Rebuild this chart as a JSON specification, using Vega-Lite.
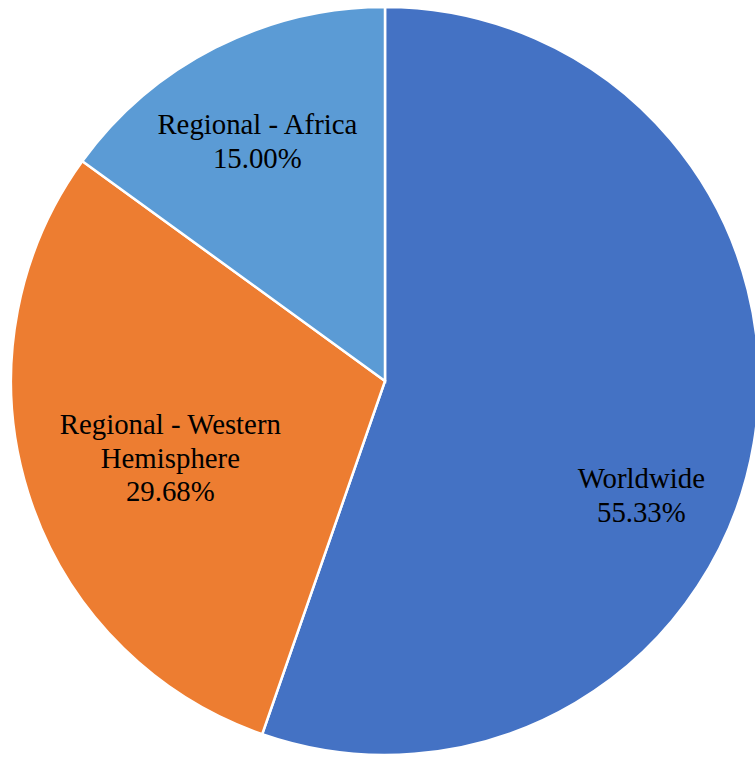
{
  "$schema": "https://vega.github.io/schema/vega-lite/v6.json",
  "width": 748,
  "height": 748,
  "autosize": "none",
  "padding": {"left": 11, "top": 7, "right": 0, "bottom": 0},
  "background": "white",
  "view": {"stroke": null},
  "data": {
    "values": [
      {"category": "Worldwide", "share": 55.33, "order": 1, "label": "Worldwide\n55.33%"},
      {"category": "Regional - Western Hemisphere", "share": 29.68, "order": 2, "label": "Regional - Western\nHemisphere\n29.68%"},
      {"category": "Regional - Africa", "share": 15.00, "order": 3, "label": "Regional - Africa\n15.00%"}
    ]
  },
  "encoding": {
    "theta": {"field": "share", "type": "quantitative", "stack": true},
    "order": {"field": "order", "type": "quantitative"}
  },
  "layer": [
    {
      "mark": {"type": "arc", "stroke": "white", "strokeWidth": 2.5},
      "encoding": {
        "color": {
          "field": "category",
          "type": "nominal",
          "scale": {
            "domain": ["Worldwide", "Regional - Western Hemisphere", "Regional - Africa"],
            "range": ["#4472C4", "#ED7D31", "#5B9BD5"]
          },
          "legend": null
        }
      }
    },
    {
      "mark": {"type": "text", "radius": 260, "dy": 55, "font": "Liberation Serif", "fontSize": 28.8, "lineHeight": 33.5, "lineBreak": "\n", "align": "center", "baseline": "middle", "color": "#000000"},
      "encoding": {
        "text": {"condition": {"test": "datum.category === 'Worldwide'", "field": "label"}, "value": ""}
      }
    },
    {
      "mark": {"type": "text", "radius": 226, "dx": 1, "dy": -23.5, "font": "Liberation Serif", "fontSize": 28.8, "lineHeight": 33.5, "lineBreak": "\n", "align": "center", "baseline": "middle", "color": "#000000"},
      "encoding": {
        "text": {"condition": {"test": "datum.category === 'Regional - Western Hemisphere'", "field": "label"}, "value": ""}
      }
    },
    {
      "mark": {"type": "text", "radius": 268, "dx": -6, "dy": -16.75, "font": "Liberation Serif", "fontSize": 28.8, "lineHeight": 33.5, "lineBreak": "\n", "align": "center", "baseline": "middle", "color": "#000000"},
      "encoding": {
        "text": {"condition": {"test": "datum.category === 'Regional - Africa'", "field": "label"}, "value": ""}
      }
    }
  ]
}
